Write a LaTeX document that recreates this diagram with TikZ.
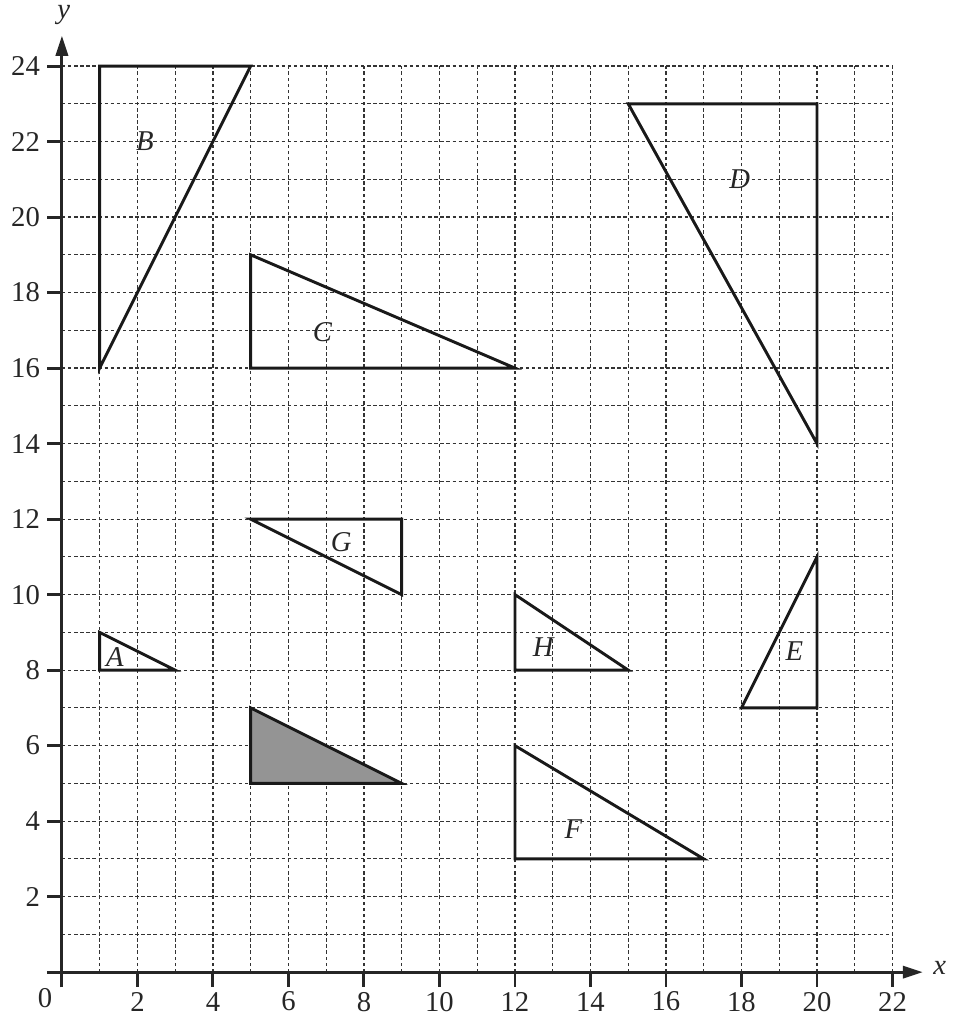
\documentclass[tikz,border=0pt]{standalone}
\usepackage{fontspec}
\setmainfont{Liberation Serif}
\usetikzlibrary{arrows.meta}
\tikzset{
  gridline/.style={line width=0.45pt, black!80, dash pattern=on 1.3pt off 1pt},
  axisline/.style={line width=1.1pt, black!85, -{Triangle[length=7.5pt,width=4.6pt]}},
  tickmark/.style={line width=1.1pt, black!85},
  ticklabel/.style={font=\fontsize{10.8}{12}\selectfont, text=black!85, inner sep=1pt},
  shapeline/.style={line width=1.1pt, black!90, line join=miter},
  shapelabel/.style={font=\fontsize{10.8}{12}\selectfont\itshape, text=black!85, inner sep=0pt},
}

\begin{document}
\begin{tikzpicture}[x=0.5cm, y=0.5cm]
  \useasboundingbox (-1.64,-1.32) rectangle (23.65,25.75);

  % grid
  \foreach \i in {1,...,22}
    \draw[gridline] (\i,0) -- (\i,24);
  \foreach \j in {1,...,24}
    \draw[gridline] (0,\j) -- (22,\j);

  % axes
  \draw[axisline] (-0.4,0) -- (22.8,0);
  \draw[axisline] (0,-0.4) -- (0,24.8);
  \node[ticklabel] (xlab) at (23.25,0.1) {\itshape x};
  \node[ticklabel] (ylab) at (0.05,25.35) {\itshape y};
  \node[ticklabel] (orig) at (-0.45,-0.7) {0};
  \foreach \i in {2,4,...,22} {
    \draw[tickmark] (\i,0) -- (\i,-0.4);
    \node[ticklabel] (xt\i) at (\i,-0.78) {\i};
  }
  \foreach \j in {2,4,...,24} {
    \draw[tickmark] (0,\j) -- (-0.4,\j);
    \node[ticklabel, anchor=east] (yt\j) at (-0.5,\j) {\j};
  }

  % shapes
  \draw[shapeline] (1,24) -- (5,24) -- (1,16) -- cycle;
  \draw[shapeline] (5,19) -- (5,16) -- (12,16) -- cycle;
  \draw[shapeline] (15,23) -- (20,23) -- (20,14) -- cycle;
  \draw[shapeline] (5,12) -- (9,12) -- (9,10) -- cycle;
  \draw[shapeline] (1,9) -- (1,8) -- (3,8) -- cycle;
  \draw[shapeline, fill=black!42] (5,7) -- (5,5) -- (9,5) -- cycle;
  \draw[shapeline] (12,10) -- (12,8) -- (15,8) -- cycle;
  \draw[shapeline] (20,11) -- (20,7) -- (18,7) -- cycle;
  \draw[shapeline] (12,6) -- (12,3) -- (17,3) -- cycle;

  % labels
  \node[shapelabel] (labB) at (2.2,22) {B};
  \node[shapelabel] (labC) at (6.9,16.95) {C};
  \node[shapelabel] (labD) at (17.95,21) {D};
  \node[shapelabel] (labG) at (7.4,11.4) {G};
  \node[shapelabel] (labA) at (1.4,8.35) {A};
  \node[shapelabel] (labH) at (12.75,8.6) {H};
  \node[shapelabel] (labE) at (19.4,8.5) {E};
  \node[shapelabel] (labF) at (13.55,3.8) {F};
\end{tikzpicture}
\end{document}
